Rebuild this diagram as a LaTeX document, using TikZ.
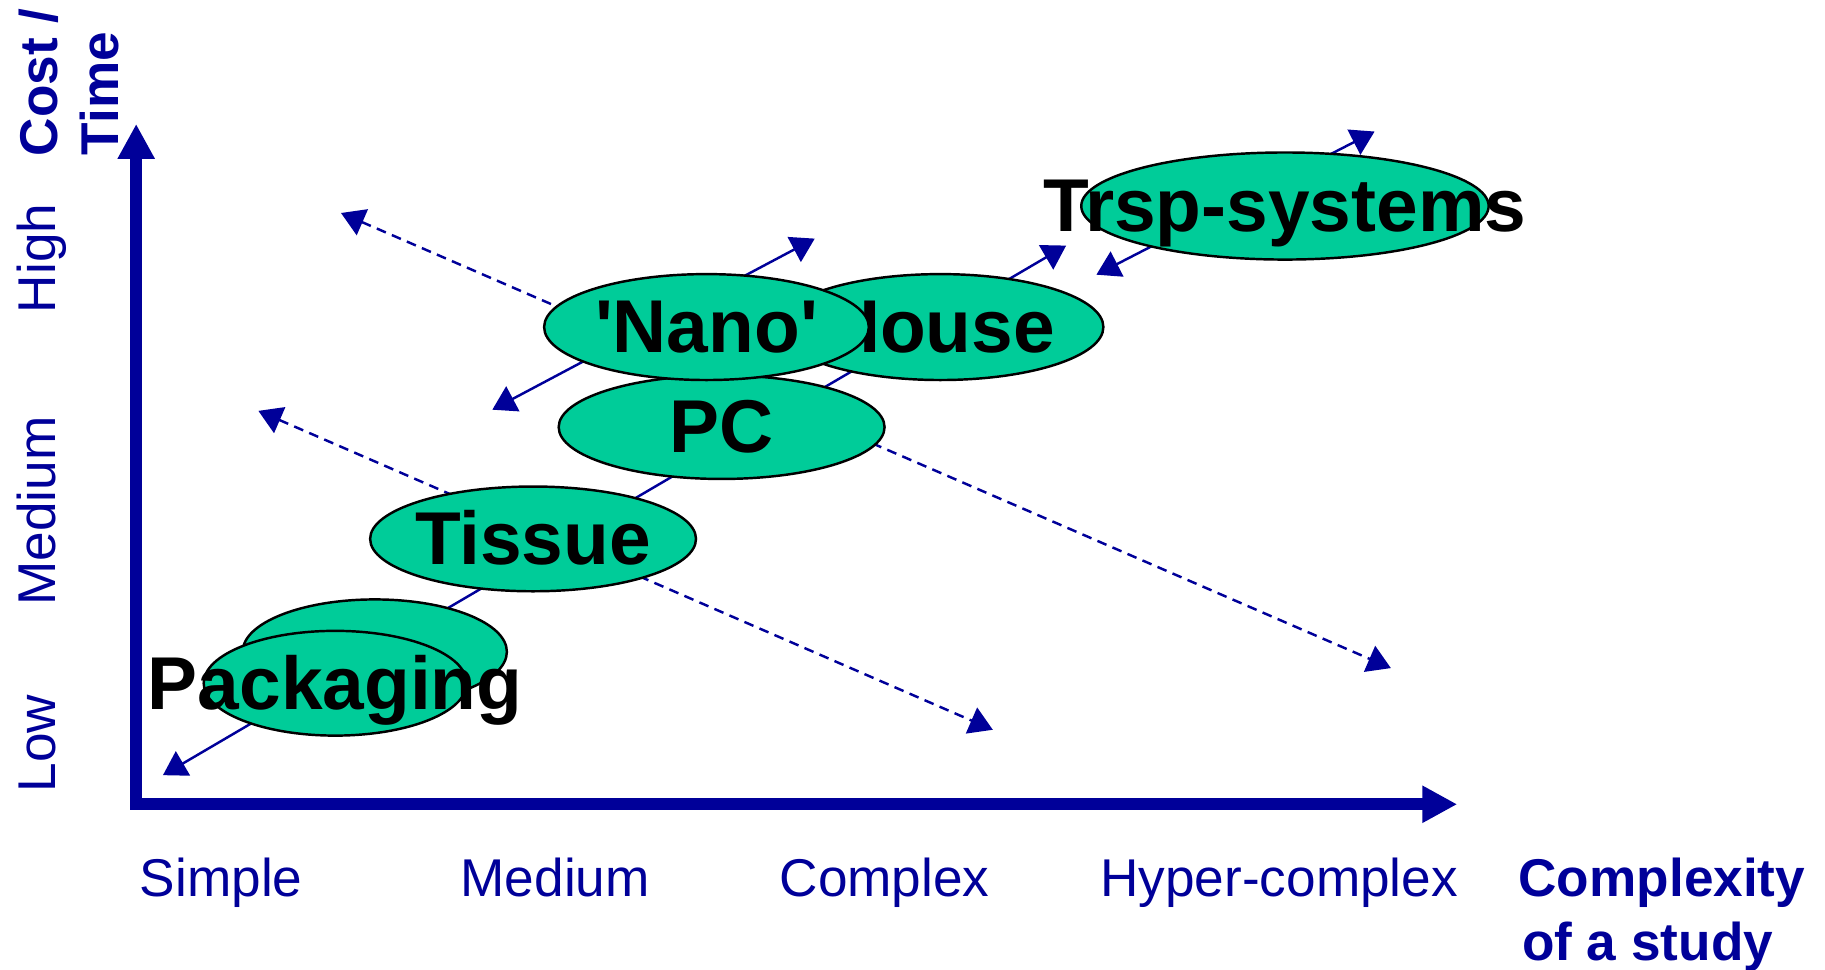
\documentclass[tikz,border=0pt]{standalone}
\usepackage{fontspec}
\setmainfont{Liberation Sans}
\usetikzlibrary{arrows.meta,shapes.geometric}
\definecolor{axisblue}{RGB}{0,0,153}
\definecolor{blobgreen}{RGB}{0,204,153}
\tikzset{
  blob/.style={ellipse, draw=black, line width=0.6pt, fill=blobgreen, inner sep=0pt},
  blobtext/.style={font=\fontsize{18.3pt}{21pt}\selectfont\bfseries, inner sep=0pt, text height=12.6pt, text depth=0pt},
  scalelabel/.style={font=\fontsize{13pt}{15.5pt}\selectfont, text=axisblue, inner sep=0pt, anchor=base},
  axistitle/.style={font=\fontsize{13pt}{15.5pt}\selectfont\bfseries, text=axisblue, inner sep=0pt, anchor=base west},
  trend/.style={axisblue, line width=0.6pt, >={Triangle[length=2mm,width=2.4mm]}, <->},
  trenddash/.style={trend, dash pattern=on 2.4pt off 1.6pt},
}
\begin{document}
\begin{tikzpicture}
  \useasboundingbox (-1.17,-1.42) rectangle (14.51,6.91);
  % axes
  \coordinate (o) at (0,0);
  \coordinate (ytop) at (0,5.845);
  \coordinate (xend) at (11.35,0);
  \draw[axisblue, line width=1mm, line join=miter, {Triangle[length=3mm,width=3mm]}-{Triangle[length=3mm,width=3mm]}] (ytop) -- (o) -- (xend);
  % trend lines, behind the ellipses
  \coordinate (main-lo) at (0.23,0.25);
  \coordinate (main-hi) at (7.99,4.80);
  \coordinate (nano-lo) at (3.06,3.39);
  \coordinate (nano-hi) at (5.83,4.86);
  \coordinate (trsp-lo) at (8.25,4.55);
  \coordinate (trsp-hi) at (10.64,5.78);
  \coordinate (dash1-a) at (1.76,5.08);
  \coordinate (dash1-b) at (10.78,1.17);
  \coordinate (dash2-a) at (1.05,3.38);
  \coordinate (dash2-b) at (7.36,0.64);
  \draw[trend] (main-lo) -- (main-hi);
  \draw[trend] (nano-lo) -- (nano-hi);
  \draw[trend] (trsp-lo) -- (trsp-hi);
  \draw[trenddash] (dash1-a) -- (dash1-b);
  \draw[trenddash] (dash2-a) -- (dash2-b);
  % ellipses
  \node[blob, minimum width=2.27cm, minimum height=0.9cm] (packback) at (2.05,1.31) {};
  \node[blob, minimum width=2.26cm, minimum height=0.9cm] (pack) at (1.71,1.04) {};
  \node[blobtext] (packtext) at (pack) {Packaging};
  \node[blob, minimum width=2.8cm, minimum height=0.9cm] (tissue) at (3.41,2.28) {};
  \node[blobtext] (tissuetext) at (tissue) {Tissue};
  \node[blob, minimum width=2.8cm, minimum height=0.89cm] (pc) at (5.03,3.24) {};
  \node[blobtext] (pctext) at (pc) {PC};
  \node[blob, minimum width=2.8cm, minimum height=0.91cm] (house) at (6.91,4.10) {};
  \node[blobtext] (housetext) at (house) {House};
  \node[blob, minimum width=2.79cm, minimum height=0.91cm] (nano) at (4.90,4.10) {};
  \node[blobtext] (nanotext) at (nano) {\textquotesingle Nano\textquotesingle};
  \node[blob, minimum width=3.5cm, minimum height=0.92cm] (trsp) at (9.87,5.14) {};
  \node[blobtext] (trsptext) at (trsp) {Trsp-systems};
  % scale labels
  \node[scalelabel] (simple) at (0.73,-0.796) {Simple};
  \node[scalelabel] (medium) at (3.60,-0.796) {Medium};
  \node[scalelabel] (complex) at (6.43,-0.796) {Complex};
  \node[scalelabel] (hyper) at (9.82,-0.796) {Hyper-complex};
  \node[axistitle] (xtitle) at (11.87,-0.796) {Complexity};
  \node[axistitle] (xtitle2) at (11.90,-1.341) {of a study};
  \node[scalelabel, rotate=90] (low) at (-0.69,0.52) {Low};
  \node[scalelabel, rotate=90] (mid) at (-0.69,2.52) {Medium};
  \node[scalelabel, rotate=90] (high) at (-0.69,4.69) {High};
  \node[axistitle, rotate=90] (ytitle) at (-0.68,5.56) {Cost /};
  \node[axistitle, rotate=90] (ytitle2) at (-0.15,5.57) {Time};
\end{tikzpicture}
\end{document}
